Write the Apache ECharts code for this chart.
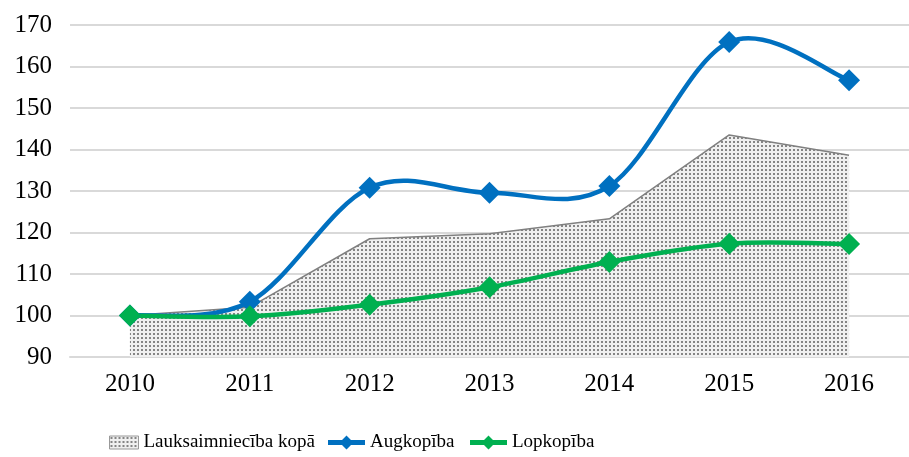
<!DOCTYPE html>
<html>
<head>
<meta charset="utf-8">
<script src="https://cdn.jsdelivr.net/npm/echarts@6/dist/echarts.min.js"></script>
<style>
  html, body { margin: 0; padding: 0; background: #fff; }
  #chart { width: 909px; height: 457px; }
</style>
</head>
<body>
<div id="chart"></div>
<script>
var years = ['2010', '2011', '2012', '2013', '2014', '2015', '2016']
var kopa = [100, 102, 118.5, 119.7, 123.3, 143.5, 138.6]
var augkopiba = [100, 103.3, 130.8, 129.6, 131.2, 165.9, 156.7]
var lopkopiba = [100, 99.8, 102.6, 106.8, 112.9, 117.3, 117.2]

// punktota tekstūra laukumam
function dots() {
  var c = document.createElement('canvas')
  c.width = 4
  c.height = 4
  var ctx = c.getContext('2d')
  ctx.fillStyle = '#f0f0f0'
  ctx.fillRect(0, 0, 4, 4)
  ctx.fillStyle = '#858585'
  ctx.fillRect(1, 1, 2, 2)
  return c
}
var pattern = { image: dots(), repeat: 'repeat' }

// līnija ar rombu leģendai
var lineIcon = 'path://M0,4.5L14,4.5L18.5,0L23,4.5L37,4.5L37,9.5L23,9.5L18.5,14L14,9.5L0,9.5Z'

// Excel stila gluda līnija (Catmull-Rom -> Bezier), katrs posms atsevišķi
function curve(values, color) {
  return function (params, api) {
    var i = params.dataIndex
    if (i === 0) return { type: 'group', children: [] }
    var n = values.length
    var a = Math.max(i - 2, 0)
    var d = Math.min(i + 1, n - 1)
    var p0 = api.coord([a, values[a]])
    var p1 = api.coord([i - 1, values[i - 1]])
    var p2 = api.coord([i, values[i]])
    var p3 = api.coord([d, values[d]])
    return {
      type: 'bezierCurve',
      shape: {
        x1: p1[0], y1: p1[1], x2: p2[0], y2: p2[1],
        cpx1: p1[0] + (p2[0] - p0[0]) / 6, cpy1: p1[1] + (p2[1] - p0[1]) / 6,
        cpx2: p2[0] - (p3[0] - p1[0]) / 6, cpy2: p2[1] - (p3[1] - p1[1]) / 6
      },
      style: { stroke: color, lineWidth: 4.5, fill: null, lineCap: 'round' }
    }
  }
}

function points(values) {
  return values.map(function (v, i) { return [i, v] })
}

var font = 'Liberation Serif'
var legendText = { fontFamily: font, fontSize: 19, color: '#000' }
var chart = echarts.init(document.getElementById('chart'))
chart.setOption({
  animation: false,
  textStyle: { fontFamily: font },
  grid: { left: 70, top: 25, width: 850, height: 332 },
  legend: [{
    top: 428, left: 104, itemWidth: 29, itemHeight: 13, textStyle: legendText,
    data: [{ name: 'Lauksaimniecība kopā', icon: 'rect', itemStyle: { color: pattern, borderColor: '#999', borderWidth: 1 } }]
  }, {
    top: 428, left: 323, itemWidth: 37, itemHeight: 14, textStyle: legendText,
    data: [{ name: 'Augkopība', icon: lineIcon, itemStyle: { color: '#0070c0', borderWidth: 0 } }]
  }, {
    top: 428, left: 465, itemWidth: 37, itemHeight: 14, textStyle: legendText,
    data: [{ name: 'Lopkopība', icon: lineIcon, itemStyle: { color: '#00b050', borderWidth: 0 } }]
  }],
  xAxis: {
    type: 'category',
    data: years,
    boundaryGap: true,
    axisLine: { lineStyle: { color: '#d9d9d9', width: 2 } },
    axisTick: { show: false },
    axisLabel: { fontFamily: font, fontSize: 25, color: '#000', margin: 15 }
  },
  yAxis: {
    type: 'value',
    min: 90,
    max: 170,
    interval: 10,
    axisLine: { show: false },
    axisTick: { show: false },
    splitLine: { lineStyle: { color: '#d9d9d9', width: 2 } },
    axisLabel: { fontFamily: font, fontSize: 25, color: '#000', margin: 18 }
  },
  series: [{
    name: 'Lauksaimniecība kopā',
    type: 'line',
    data: kopa,
    symbol: 'none',
    z: 2,
    lineStyle: { color: '#808080', width: 1.5 },
    itemStyle: { color: '#999' },
    areaStyle: { color: pattern, origin: 'start', opacity: 1 }
  }, {
    name: 'Augkopība',
    type: 'custom',
    data: points(augkopiba),
    encode: { x: 0, y: 1 },
    z: 3,
    renderItem: curve(augkopiba, '#0070c0')
  }, {
    name: 'Lopkopība',
    type: 'custom',
    data: points(lopkopiba),
    encode: { x: 0, y: 1 },
    z: 3,
    renderItem: curve(lopkopiba, '#00b050')
  }, {
    name: 'Augkopība',
    type: 'line',
    data: augkopiba,
    symbol: 'diamond',
    symbolSize: 22,
    z: 4,
    lineStyle: { opacity: 0 },
    itemStyle: { color: '#0070c0' }
  }, {
    name: 'Lopkopība',
    type: 'line',
    data: lopkopiba,
    symbol: 'diamond',
    symbolSize: 22,
    z: 4,
    lineStyle: { opacity: 0 },
    itemStyle: { color: '#00b050' }
  }]
})
</script>
</body>
</html>
